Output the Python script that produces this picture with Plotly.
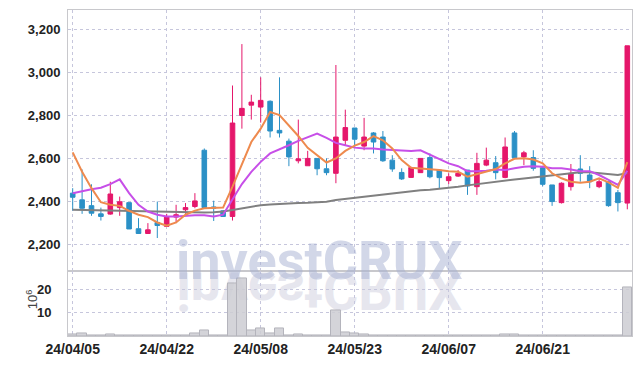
import base64
import plotly.graph_objects as go
from plotly.subplots import make_subplots

dates = ["24/04/05", "24/04/08", "24/04/09", "24/04/11", "24/04/12", "24/04/15", "24/04/16", "24/04/17", "24/04/18", "24/04/19",
         "24/04/22", "24/04/23", "24/04/24", "24/04/25", "24/04/26", "24/04/29", "24/04/30", "24/05/02", "24/05/03", "24/05/07",
         "24/05/08", "24/05/09", "24/05/10", "24/05/13", "24/05/14", "24/05/16", "24/05/17", "24/05/20", "24/05/21", "24/05/22",
         "24/05/23", "24/05/24", "24/05/27", "24/05/28", "24/05/29", "24/05/30", "24/05/31", "24/06/03", "24/06/04", "24/06/05",
         "24/06/07", "24/06/10", "24/06/11", "24/06/12", "24/06/13", "24/06/14", "24/06/17", "24/06/18", "24/06/19", "24/06/20",
         "24/06/21", "24/06/24", "24/06/25", "24/06/26", "24/06/27", "24/06/28", "24/07/01", "24/07/02", "24/07/03", "24/07/04"]

open_ = [2440, 2409, 2382, 2344, 2343, 2373, 2396, 2275, 2253, 2304,
         2286, 2329, 2363, 2378, 2639, 2376, 2358, 2332, 2800, 2848,
         2839, 2866, 2731, 2681, 2590, 2567, 2601, 2553, 2532, 2685,
         2742, 2658, 2719, 2700, 2593, 2536, 2513, 2535, 2605, 2547,
         2498, 2519, 2547, 2470, 2570, 2581, 2513, 2719, 2608, 2605,
         2558, 2478, 2396, 2470, 2552, 2524, 2470, 2493, 2442, 2394]
high = [2463, 2550, 2481, 2373, 2493, 2424, 2396, 2324, 2301, 2401,
        2344, 2386, 2394, 2440, 2647, 2405, 2360, 2939, 3131, 2896,
        2977, 2870, 2977, 2693, 2781, 2636, 2601, 2601, 3034, 2827,
        2742, 2789, 2723, 2728, 2616, 2555, 2562, 2601, 2624, 2547,
        2532, 2547, 2547, 2627, 2651, 2612, 2698, 2728, 2636, 2639,
        2567, 2478, 2490, 2575, 2616, 2565, 2509, 2493, 2455, 3123]
low = [2359, 2344, 2335, 2313, 2340, 2335, 2274, 2252, 2251, 2232,
       2283, 2301, 2344, 2370, 2370, 2311, 2330, 2313, 2739, 2781,
       2767, 2698, 2698, 2565, 2578, 2567, 2523, 2523, 2486, 2662,
       2654, 2639, 2624, 2585, 2539, 2501, 2511, 2535, 2509, 2463,
       2482, 2515, 2432, 2432, 2565, 2504, 2509, 2600, 2570, 2544,
       2472, 2381, 2392, 2452, 2493, 2463, 2463, 2377, 2355, 2365]
close = [2421, 2370, 2347, 2332, 2436, 2400, 2274, 2253, 2270, 2290,
         2329, 2340, 2373, 2404, 2373, 2370, 2332, 2765, 2833, 2862,
         2870, 2728, 2719, 2608, 2599, 2601, 2553, 2535, 2700, 2744,
         2690, 2700, 2677, 2590, 2552, 2506, 2559, 2601, 2516, 2512,
         2516, 2532, 2473, 2578, 2593, 2535, 2654, 2604, 2627, 2555,
         2481, 2401, 2486, 2532, 2532, 2493, 2493, 2382, 2396, 3123]

ma5 = [2629, 2539, 2463, 2398, 2386, 2381, 2358, 2340, 2329, 2304,
       2289, 2304, 2340, 2359, 2370, 2373, 2373, 2470, 2578, 2677,
       2739, 2816, 2802, 2756, 2705, 2650, 2614, 2582, 2601, 2636,
       2660, 2677, 2704, 2685, 2647, 2593, 2558, 2555, 2550, 2547,
       2542, 2539, 2516, 2528, 2539, 2552, 2578, 2599, 2602, 2596,
       2578, 2532, 2509, 2493, 2488, 2493, 2509, 2490, 2465, 2584]
ma20 = [2440, 2450, 2458, 2465, 2482, 2504, 2440, 2386, 2355, 2340,
        2332, 2332, 2335, 2338, 2337, 2332, 2340, 2409, 2482, 2539,
        2585, 2624, 2642, 2662, 2682, 2698, 2716, 2696, 2673, 2662,
        2651, 2647, 2647, 2642, 2639, 2636, 2635, 2639, 2619, 2596,
        2578, 2565, 2542, 2542, 2544, 2550, 2547, 2555, 2562, 2565,
        2562, 2555, 2555, 2550, 2542, 2542, 2524, 2501, 2478, 2544]
ma60 = [2363, 2362, 2361, 2360, 2359, 2358, 2357, 2356, 2355, 2354,
        2353, 2352, 2352, 2351, 2350, 2352, 2355, 2362, 2370, 2377,
        2384, 2387, 2390, 2392, 2394, 2395, 2397, 2400, 2408, 2413,
        2418, 2423, 2428, 2433, 2440, 2446, 2450, 2453, 2456, 2460,
        2464, 2470, 2476, 2482, 2488, 2493, 2498, 2503, 2508, 2513,
        2518, 2523, 2528, 2532, 2537, 2537, 2533, 2528, 2524, 2533]

volume = [0.7, 1.1, 0.3, 0.1, 0.6, 0.3, 0.3, 0.1, 0.1, 0.2,
          0.1, 0.2, 0.1, 1.1, 2.3, 0.4, 0.2, 22.9, 25.0, 2.3,
          3.2, 1.1, 3.2, 0.3, 0.7, 0.4, 0.1, 0.1, 11.0, 1.4,
          0.9, 0.7, 0.4, 0.4, 0.3, 0.2, 0.2, 0.1, 0.1, 0.1,
          0.1, 0.1, 0.3, 0.3, 0.1, 0.1, 0.5, 0.5, 0.1, 0.1,
          0.1, 0.1, 0.1, 0.1, 0.1, 0.1, 0.1, 0.1, 0.1, 20.8]

price_ticks = [2200, 2400, 2600, 2800, 3000, 3200]
volume_ticks = [10, 20]
x_ticks = dates[::10]

UP = "#e5176b"
DOWN = "#2b90c6"
GRID = "#c6c6dc"
FRAME = "#c8c8cc"
TXT = "#222222"

fig = make_subplots(rows=2, cols=1, shared_xaxes=True, vertical_spacing=0,
                    row_heights=[0.802, 0.198])

fig.add_trace(go.Bar(x=dates, y=volume, marker=dict(color="rgba(205,205,210,0.85)",
                     line=dict(color="#b4b4bc", width=1)), showlegend=False), row=2, col=1)

fig.add_trace(go.Scatter(x=dates, y=ma60, mode="lines", line=dict(color="#808080", width=2),
                         showlegend=False), row=1, col=1)
fig.add_trace(go.Candlestick(x=dates, open=open_, high=high, low=low, close=close,
                             increasing=dict(line=dict(color=UP, width=1), fillcolor=UP),
                             decreasing=dict(line=dict(color=DOWN, width=1), fillcolor=DOWN),
                             showlegend=False), row=1, col=1)
fig.add_trace(go.Scatter(x=dates, y=ma20, mode="lines", line=dict(color="#c74fe8", width=2),
                         showlegend=False), row=1, col=1)
fig.add_trace(go.Scatter(x=dates, y=ma5, mode="lines", line=dict(color="#ee8a4e", width=2),
                         showlegend=False), row=1, col=1)

tickfont = dict(family="Liberation Sans", size=13, color=TXT, weight="bold")

fig.update_xaxes(type="category", range=[-0.5, 59.5], tickvals=x_ticks, ticktext=x_ticks,
                 showgrid=True, gridcolor=GRID, griddash="dot", gridwidth=1,
                 showline=True, linecolor=FRAME, mirror=True, ticks="",
                 rangeslider=dict(visible=False), zeroline=False)
fig.update_xaxes(showticklabels=False, row=1, col=1)
fig.update_xaxes(showticklabels=True, tickfont=dict(family="Liberation Sans", size=14, color=TXT, weight="bold"),
                 row=2, col=1)

fig.update_yaxes(range=[2077, 3289], tickvals=price_ticks, tickformat=",", tickfont=tickfont,
                 showgrid=True, gridcolor=GRID, griddash="dot", gridwidth=1,
                 showline=True, linecolor=FRAME, mirror=True, ticks="", zeroline=False,
                 ticklabelstandoff=4, row=1, col=1)
fig.update_yaxes(range=[0, 27.9], tickvals=volume_ticks, tickfont=tickfont,
                 showgrid=True, gridcolor=GRID, griddash="dot", gridwidth=1,
                 showline=True, linecolor=FRAME, mirror=True, ticks="", zeroline=False,
                 ticklabelstandoff=13, row=2, col=1)

# watermark reflection (flipped) as svg image
svg = ('<svg xmlns="http://www.w3.org/2000/svg" width="400" height="60" viewBox="0 0 400 60">'
       '<text x="200" y="0" transform="scale(1,-1)" text-anchor="middle" font-family="Roboto" '
       'font-weight="bold" font-size="54" fill="#e6e6ee">investCRUX</text></svg>')
src = "data:image/svg+xml;base64," + base64.b64encode(svg.encode()).decode()
fig.add_layout_image(dict(source=src, xref="paper", yref="paper",
                          x=(120 - 68) / 565, y=(337 - 273) / 328,
                          sizex=400 / 565, sizey=60 / 328, xanchor="left", yanchor="top",
                          sizing="stretch", layer="below"))

fig.add_annotation(text="investCRUX", xref="paper", yref="paper", x=(320 - 68) / 565,
                   y=(337 - 295) / 328, xanchor="center", yanchor="bottom", showarrow=False,
                   font=dict(family="Roboto", size=54, color="rgba(165,176,210,0.5)", weight="bold"))

fig.add_annotation(text="10<sup>6</sup>", xref="paper", yref="paper", x=(32 - 68) / 565,
                   y=(337 - 300) / 328, xanchor="center", yanchor="middle", textangle=-90,
                   showarrow=False, font=dict(family="Liberation Sans", size=13, color="#444444"))

fig.update_layout(width=642, height=366, margin=dict(l=68, r=9, t=9, b=29),
                  paper_bgcolor="white", plot_bgcolor="rgba(0,0,0,0)",
                  bargap=0, showlegend=False, hovermode=False)

fig.write_html("out.html")
